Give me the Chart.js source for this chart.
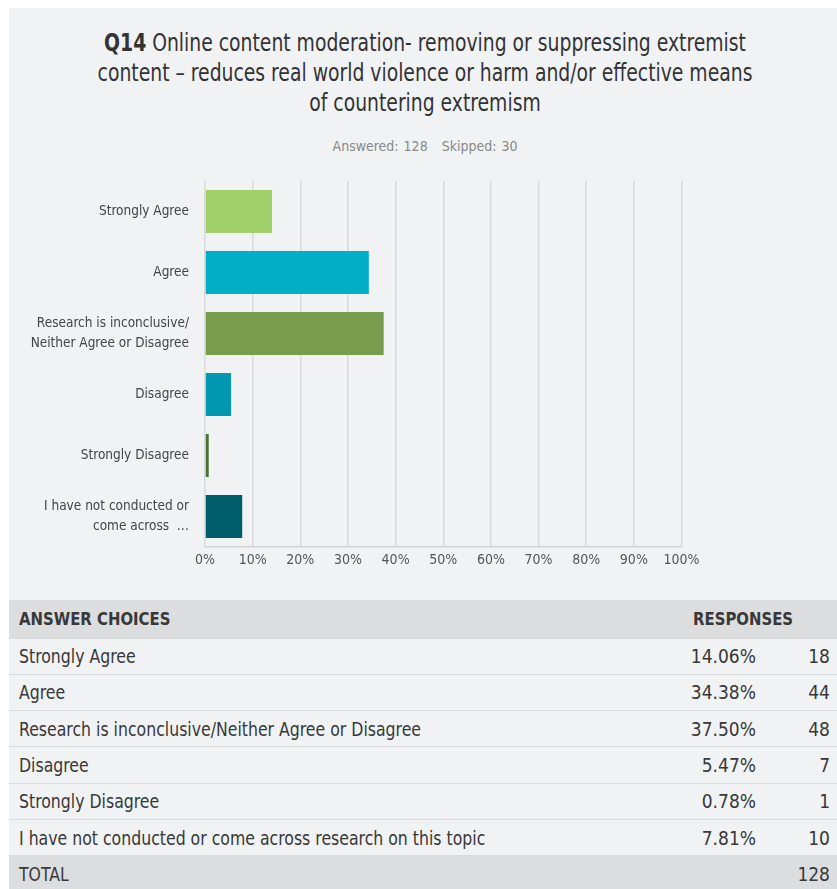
<!DOCTYPE html>
<html>
<head>
<meta charset="utf-8">
<script src="https://cdn.jsdelivr.net/npm/chart.js@4/dist/chart.umd.min.js"></script>
<style>
  html, body { margin: 0; padding: 0; background: #fff; }
  body { width: 837px; height: 889px; overflow: hidden; position: relative;
         font-family: 'Liberation Sans Narrow', 'DejaVu Sans Condensed', sans-serif; }
  #panel { position: absolute; left: 9px; top: 8px; width: 828px; height: 881px; background: #f1f2f4; }
  #title { position: absolute; left: 5px; top: 20px; width: 822px; text-align: center;
           font-size: 24px; line-height: 30px; color: #333; transform: scaleX(0.87); }
  #title b { font-weight: bold; }
  #meta { position: absolute; left: 5px; top: 130px; width: 822px; text-align: center;
          font-size: 14px; color: #888; word-spacing: 1px; }
  #meta span + span { margin-left: 14px; }
  #chartBox { position: absolute; left: 0; top: 157px; width: 828px; height: 425px; }
  table { position: absolute; left: 0; top: 592px; width: 828px; border-collapse: collapse;
          font-size: 19px; color: #383838; }
  td, th { height: 36.3px; padding: 0; box-sizing: border-box; border-bottom: 1px solid #d9dadc; }
  th { height: 38px; background: #dcdddf; font-weight: bold; font-size: 18px; text-align: left; }
  th.c1 { padding-left: 10px; }
  th.c2 { padding-left: 13px; }
  td.c1 { padding-left: 10px; }
  td.c2 { text-align: right; padding-right: 10px; width: 86px; }
  td.c3 { text-align: right; padding-right: 7px; width: 71px; }
  .sx { display: inline-block; transform: scaleX(0.92); transform-origin: left center; white-space: nowrap; }
  tr.total td { background: #dcdddf; border-bottom: none; }
</style>
</head>
<body>
<div id="panel">
  <div id="title"><b>Q14</b> Online content moderation- removing or suppressing extremist<br>content – reduces real world violence or harm and/or effective means<br>of countering extremism</div>
  <div id="meta"><span>Answered: 128</span><span>Skipped: 30</span></div>
  <div id="chartBox"><canvas id="myChart"></canvas></div>
  <table id="answers"></table>
</div>
<script>
// answer choices as listed in the table
const choices = [
    'Strongly Agree',
    'Agree',
    'Research is inconclusive/Neither Agree or Disagree',
    'Disagree',
    'Strongly Disagree',
    'I have not conducted or come across research on this topic'
];
// shortened labels for the y axis
const axisLabels = [
    'Strongly Agree',
    'Agree',
    ['Research is inconclusive/', 'Neither Agree or Disagree'],
    'Disagree',
    'Strongly Disagree',
    ['I have not conducted or', 'come across  …']
];
const percents = [14.06, 34.38, 37.50, 5.47, 0.78, 7.81];
const counts = [18, 44, 48, 7, 1, 10];
const total = 128;
const xTicks = [0, 10, 20, 30, 40, 50, 60, 70, 80, 90, 100];

var barColors = ['#a2d16c', '#00aec7', '#789c4e', '#0098b0', '#4f7035', '#005e6b'];

//
// table under the chart
//
let tbl = document.getElementById('answers');
let html = '<tr><th class="c1"><span class="sx">ANSWER CHOICES</span></th><th class="c2" colspan="2"><span class="sx">RESPONSES</span></th></tr>';
for (let i = 0; i < choices.length; i++) {
    html += '<tr><td class="c1"><span class="sx">' + choices[i] + '</span></td><td class="c2">' + percents[i].toFixed(2) +
        '%</td><td class="c3">' + counts[i] + '</td></tr>';
}
html += '<tr class="total"><td class="c1"><span class="sx">TOTAL</span></td><td class="c2"></td><td class="c3">' + total + '</td></tr>';
tbl.innerHTML = html;

//
// CHART
//
Chart.defaults.font.family = "'Liberation Sans Narrow', 'DejaVu Sans Condensed', sans-serif";

var myChart = new Chart(document.getElementById('myChart').getContext('2d'), {
    type: 'bar',
    data: {
        labels: axisLabels,
        datasets: [{
            data: percents,
            backgroundColor: barColors,
            borderWidth: 0,
            barPercentage: 0.705,
            categoryPercentage: 1
        }]
    },
    options: {
        indexAxis: 'y',
        responsive: true,
        maintainAspectRatio: false,
        animation: false,
        layout: {
            padding: { left: 0, right: 155.5, top: 16, bottom: 0 }
        },
        plugins: {
            legend: { display: false },
            tooltip: { enabled: false }
        },
        scales: {
            x: {
                min: 0,
                max: 100,
                afterBuildTicks: (scale) => { scale.ticks = xTicks.map(v => ({ value: v })); },
                afterFit: (scale) => { scale.height = 43; },
                grid: { color: '#d9dadc', lineWidth: 1.5, drawTicks: false },
                border: { color: '#d3d4d6', width: 1.5 },
                ticks: {
                    padding: 5,
                    color: '#555',
                    font: { size: 14 },
                    maxRotation: 0,
                    callback: (v) => v + '%'
                }
            },
            y: {
                // fixed label column, and no extra room for the two-line labels
                afterFit: (scale) => {
                    scale.width = 196;
                    scale.paddingTop = 0;
                    scale.paddingBottom = 0;
                },
                grid: { display: false, drawTicks: false },
                border: { display: false },
                ticks: {
                    padding: 16,
                    color: '#444',
                    font: { size: 13.5, lineHeight: 1.45 }
                }
            }
        }
    }
});
</script>
</body>
</html>
